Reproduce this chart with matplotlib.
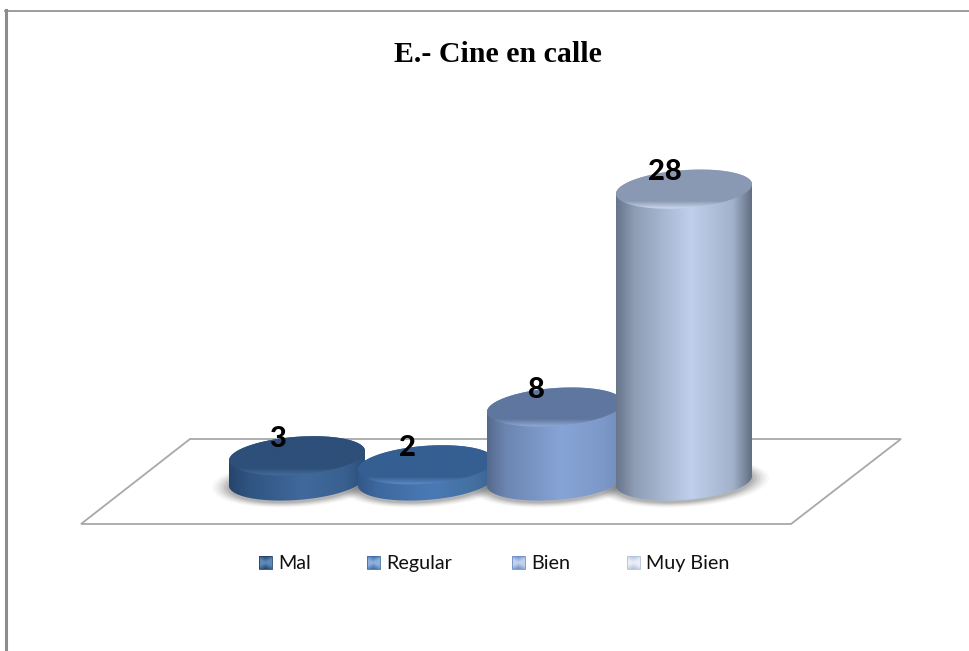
#! /usr/bin/env python3

"""
Cylinder chart for the "Cine en calle" survey answers.
"""

import numpy as np
import matplotlib
matplotlib.use("Agg")
import matplotlib.pyplot as plt
from matplotlib.colors import LinearSegmentedColormap
from matplotlib.patches import PathPatch, Polygon
from matplotlib.path import Path

title = "E.- Cine en calle"
categories = ["Mal", "Regular", "Bien", "Muy Bien"]
values = [3, 2, 8, 28]

# left edge, shoulder, middle, shoulder, right edge of the side
side_colors = [
    ["#26446b", "#2f5480", "#41699c", "#38608f", "#2b4e7a"],
    ["#32578a", "#3d689e", "#4a7ab6", "#44709f", "#3a6295"],
    ["#56698c", "#6c86b2", "#86a4d6", "#7c98c8", "#6f8cba"],
    ["#68758b", "#8f9db6", "#bfd0ec", "#a3b2cb", "#626e82"],
]
lid_colors = ["#2d4f79", "#355f92", "#5f779f", "#8a99b3"]
rim_colors = ["#456f9f", "#5f8ec8", "#94acd6", "#cfdbef"]
legend_colors = ["#24426b", "#3f6ca8", "#6f8fc4", "#b4c2da"]
legend_lights = ["#5f8ab8", "#8db0dc", "#c2d3ee", "#e9eef6"]

CENTER_0 = 297
SPACING = 129
RADIUS_X = 68
RADIUS_Y = 19
TILT = -0.07
BASE_Y = 481


def value_height(value):
    """
    Height of a cylinder in pixels (the 3D view stretches tall bars a bit).
    """
    return 7.57 * value ** 1.096


def outline(cx, cy, t_start, t_end):
    t = np.linspace(t_start, t_end, 80)
    x = cx + RADIUS_X * np.cos(t)
    y = cy + RADIUS_Y * np.sin(t) + TILT * RADIUS_X * np.cos(t)
    return np.column_stack([x, y])


def gradient(ax, colors, extent, clip_path, zorder, vertical=False, stops=None):
    if stops is None:
        stops = np.linspace(0, 1, len(colors))
    cmap = LinearSegmentedColormap.from_list("g", list(zip(stops, colors)))
    ramp = np.linspace(0, 1, 256)
    ramp = ramp[:, None] if vertical else ramp[None, :]
    im = ax.imshow(ramp, cmap=cmap, extent=extent, aspect="auto",
                   origin="upper", zorder=zorder, interpolation="bilinear")
    im.set_clip_path(clip_path, ax.transData)


def draw_shadow(ax, cx, zorder):
    for grow, alpha in zip(range(17, 0, -3), [0.04, 0.06, 0.08, 0.10, 0.12, 0.14]):
        t = np.linspace(0, 2 * np.pi, 80)
        x = cx + (RADIUS_X + grow) * np.cos(t)
        y = BASE_Y + 2 + (RADIUS_Y + grow * 0.3) * np.sin(t) + TILT * RADIUS_X * np.cos(t)
        ax.fill(x, y, color="#555555", alpha=alpha, lw=0, zorder=zorder)


def draw_cylinder(ax, index, value):
    cx = CENTER_0 + index * SPACING
    top_y = BASE_Y - value_height(value)
    zorder = 3 + index

    body = np.vstack([
        outline(cx, BASE_Y, 0, np.pi),
        outline(cx, top_y, np.pi, 2 * np.pi),
    ])
    body_path = Path(np.vstack([body, body[0]]), closed=True)
    gradient(ax, side_colors[index],
             (cx - RADIUS_X, cx + RADIUS_X, BASE_Y + 30, top_y - 30),
             body_path, zorder, stops=[0, 0.14, 0.55, 0.86, 1])

    lid = outline(cx, top_y, 0, 2 * np.pi)
    lid_path = Path(lid, closed=True)
    gradient(ax, [lid_colors[index], lid_colors[index], rim_colors[index], lid_colors[index]],
             (cx - RADIUS_X, cx + RADIUS_X, top_y + RADIUS_Y + 6, top_y - RADIUS_Y - 6),
             lid_path, zorder + 0.1, vertical=True, stops=[0, 0.74, 0.9, 1])

    ax.text(cx - 19, top_y - 17, str(value), ha="center", va="center",
            fontsize=21, fontweight="black", family="Lato", color="black",
            zorder=20)


def draw_legend(ax):
    square_x = [259, 367, 512, 627]
    for name, color, light, x in zip(categories, legend_colors, legend_lights, square_x):
        box = Path([(x, 556), (x + 13, 556), (x + 13, 569), (x, 569), (x, 556)], closed=True)
        # four-way pinch: dark at top and bottom, light at the sides and centre
        u, v = np.meshgrid(np.linspace(-1, 1, 26), np.linspace(-1, 1, 26))
        cmap = LinearSegmentedColormap.from_list("s", [color, light])
        shade = np.clip(1 - np.abs(v) + 0.5 * np.abs(u), 0, 1)
        im = ax.imshow(shade, cmap=cmap, extent=(x, x + 13, 569, 556), aspect="auto",
                       origin="upper", zorder=3, vmin=0, vmax=1)
        im.set_clip_path(box, ax.transData)
        ax.add_patch(PathPatch(box, fc="none", ec=color, lw=0.6, zorder=3))
        ax.text(x + 19, 569, name, ha="left", va="baseline", fontsize=14.2,
                family="Lato", color="#111111")


def main():
    fig = plt.figure(figsize=(9.70, 6.51), dpi=100)
    ax = fig.add_axes([0, 0, 1, 1])

    # page frame
    ax.plot([5, 970], [11, 11], color="#8c8c8c", lw=1.2)
    ax.plot([6.5, 6.5], [10, 651], color="#8c8c8c", lw=2.2)

    # floor of the 3D box
    ax.add_patch(Polygon([(190, 439), (901, 439), (791, 524), (81, 524)], closed=True,
                         fc="white", ec="#a8a8a8", lw=1.3, zorder=1))

    for index in range(len(values)):
        draw_shadow(ax, CENTER_0 + index * SPACING, 2)
    for index, value in enumerate(values):
        draw_cylinder(ax, index, value)

    ax.text(497.5, 54, title, ha="center", va="center", fontsize=21.5,
            fontweight="bold", family="Liberation Serif", color="black")
    draw_legend(ax)

    ax.set_xlim(0, 970)
    ax.set_ylim(651, 0)
    ax.axis("off")
    fig.savefig("out.png", dpi=100)


if __name__ == "__main__":
    main()
